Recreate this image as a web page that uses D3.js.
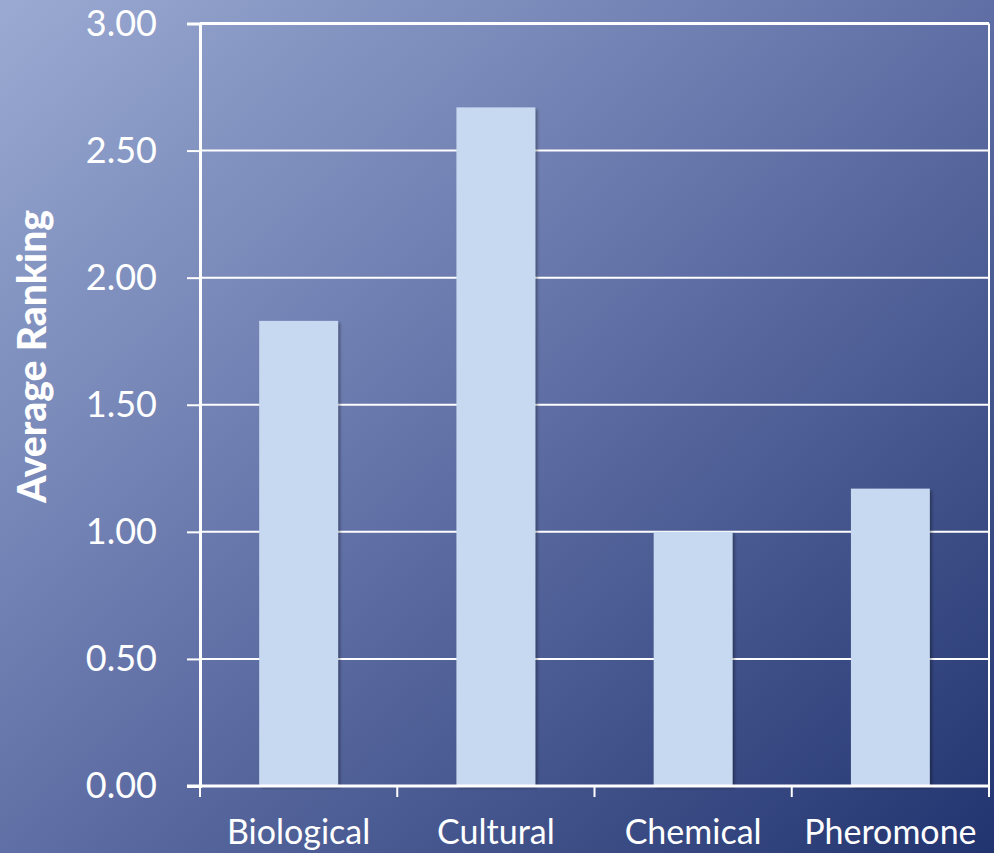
<!DOCTYPE html>
<html><head><meta charset="utf-8">
<script src="https://cdn.jsdelivr.net/npm/d3@7"></script>
<style>html,body{margin:0;padding:0;background:#5a6aa2;}svg{display:block;}</style>
</head><body>
<svg id="chart" width="994" height="853"></svg>
<script>
const categories = ["Biological", "Cultural", "Chemical", "Pheromone"];
const values = [1.83, 2.67, 1.00, 1.17];
const yTicks = [0, 0.5, 1.0, 1.5, 2.0, 2.5, 3.0];
const yTitle = "Average Ranking";

const W = 994, H = 853;
const m = {left: 200, right: 5, top: 23.5, bottom: 67};
const svg = d3.select("#chart");
const defs = svg.append("defs");
const g1 = defs.append("linearGradient").attr("id","bg").attr("x1","0").attr("y1","0").attr("x2","1").attr("y2","1");
g1.append("stop").attr("offset","0").attr("stop-color","#9aaad2");
g1.append("stop").attr("offset","0.5").attr("stop-color","#6070a6");
g1.append("stop").attr("offset","1").attr("stop-color","#22346f");
const f = defs.append("filter").attr("id","sh").attr("x","-10%").attr("y","-10%").attr("width","130%").attr("height","130%");
f.append("feDropShadow").attr("dx",2).attr("dy",2).attr("stdDeviation",1.5).attr("flood-color","#000").attr("flood-opacity",0.35);

svg.append("rect").attr("width",W).attr("height",H).attr("fill","url(#bg)");

const x = d3.scaleBand().domain(categories).range([m.left, W - m.right]).paddingInner(0.6).paddingOuter(0.3);
const y = d3.scaleLinear().domain([0, 3]).range([H - m.bottom, m.top]);
const x0 = m.left, x1 = W - m.right, y0 = y(0), yTop = y(3);

// gridlines
svg.append("g").selectAll("line").data(yTicks.filter(d => d > 0 && d < 3)).join("line")
  .attr("x1", x0).attr("x2", x1).attr("y1", d => y(d)).attr("y2", d => y(d))
  .attr("stroke", "#fff").attr("stroke-width", 2);

// bars
svg.append("g").selectAll("rect").data(categories).join("rect")
  .attr("x", d => x(d)).attr("width", x.bandwidth())
  .attr("y", (d,i) => y(values[i])).attr("height", (d,i) => y0 - y(values[i]))
  .attr("fill", "#c6d9f0").attr("filter","url(#sh)");

// border: top and right
svg.append("line").attr("x1", x0).attr("x2", x1).attr("y1", yTop).attr("y2", yTop).attr("stroke","#fff").attr("stroke-width",3);
svg.append("line").attr("x1", x1).attr("x2", x1).attr("y1", yTop).attr("y2", y0).attr("stroke","#fff").attr("stroke-width",2);

// y axis
const ya = svg.append("g").attr("transform", `translate(${x0},0)`)
  .call(d3.axisLeft(y).tickValues(yTicks).tickFormat(d3.format(".2f")).tickSize(13).tickPadding(30));
ya.select(".domain").attr("stroke","#fff").attr("stroke-width",3);
ya.selectAll(".tick line").attr("stroke","#fff").attr("stroke-width",2);
ya.selectAll(".tick text").attr("fill","#fff").style("font-family","Lato, 'Open Sans', sans-serif").style("font-size","36px").attr("dy","0.32em");

// x axis
const xTickPos = d3.range(categories.length + 1).map(i => x0 + i * (x1 - x0) / categories.length);
svg.append("line").attr("x1", x0 - 13).attr("x2", x1).attr("y1", y0).attr("y2", y0).attr("stroke","#fff").attr("stroke-width",3);
svg.append("g").selectAll("line").data(xTickPos).join("line")
  .attr("x1", d => d).attr("x2", d => d).attr("y1", y0).attr("y2", y0 + 11)
  .attr("stroke","#fff").attr("stroke-width",2);
svg.append("g").selectAll("text").data(categories).join("text")
  .attr("x", d => x(d) + x.bandwidth()/2).attr("y", 844)
  .attr("text-anchor","middle").attr("fill","#fff")
  .style("font-family","Lato, 'Open Sans', sans-serif").style("font-size","34px")
  .text(d => d);

// y title
svg.append("text").attr("transform", `translate(46,${(208+505)/2}) rotate(-90)`)
  .attr("text-anchor","middle").attr("fill","#fff")
  .style("font-family","Lato, 'Open Sans', sans-serif").style("font-weight","900").style("font-size","39px")
  .text(yTitle);
</script>
</body></html>
